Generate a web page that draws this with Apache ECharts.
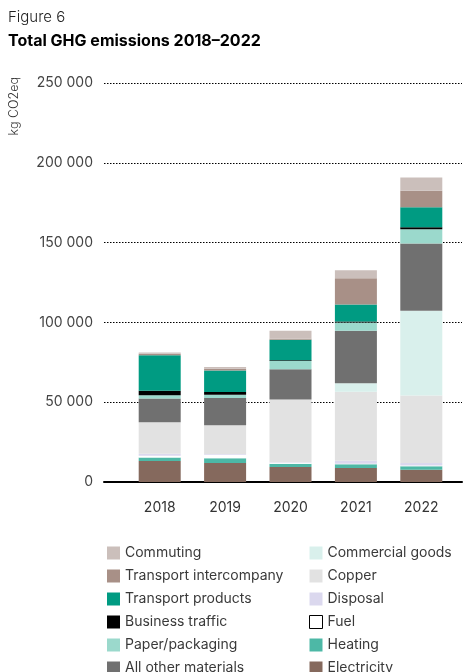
<!DOCTYPE html>
<html>
<head>
<meta charset="utf-8">
<script src="https://cdn.jsdelivr.net/npm/echarts@6/dist/echarts.min.js"></script>
<style>
html,body{margin:0;padding:0;background:#fff;}
#chart{width:466px;height:672px;}
</style>
</head>
<body>
<div id="chart"></div>
<script>
const years = ['2018', '2019', '2020', '2021', '2022'];
const yTicks = [0, 50000, 100000, 150000, 200000, 250000];

const electricity = [13200, 11900, 9400, 8800, 7700];
const heating = [2100, 3000, 2100, 2300, 2100];
const fuel = [1100, 2200, 500, 400, 600];
const disposal = [1300, 400, 400, 1800, 1500];
const copper = [19800, 18000, 39300, 43200, 42300];
const commercialGoods = [0, 0, 0, 5400, 53100];
const allOtherMaterials = [14800, 17100, 18900, 32900, 42100];
const paperPackaging = [2100, 2100, 5200, 5200, 9000];
const businessTraffic = [2700, 1700, 500, 600, 1200];
const transportProducts = [22300, 13500, 12900, 10600, 12500];
const transportIntercompany = [1000, 1000, 600, 16500, 10400];
const commuting = [800, 1100, 5000, 5000, 8300];

const legendLeft = ['Commuting', 'Transport intercompany', 'Transport products', 'Business traffic', 'Paper/packaging', 'All other materials'];
const legendRight = ['Commercial goods', 'Copper', 'Disposal', 'Fuel', 'Heating', 'Electricity'];

const FONT = 'Inter';
const stackDefs = [
  ['Electricity', electricity, '#85695d'],
  ['Heating', heating, '#4db8a6'],
  ['Fuel', fuel, '#ffffff'],
  ['Disposal', disposal, '#dbd8ee'],
  ['Copper', copper, '#e2e2e2'],
  ['Commercial goods', commercialGoods, '#d9f0ec'],
  ['All other materials', allOtherMaterials, '#707070'],
  ['Paper/packaging', paperPackaging, '#9bd9cc'],
  ['Business traffic', businessTraffic, '#000000'],
  ['Transport products', transportProducts, '#009b82'],
  ['Transport intercompany', transportIntercompany, '#a89087'],
  ['Commuting', commuting, '#cbbfbb']
];

const series = stackDefs.map(([name, data, color]) => ({
  name: name,
  type: 'bar',
  stack: 'total',
  xAxisIndex: 1,
  yAxisIndex: 1,
  barWidth: 42,
  data: data,
  itemStyle: { color: color },
  emphasis: { disabled: true }
}));

const legendItem = (n) => n === 'Fuel'
  ? { name: n, itemStyle: { color: '#ffffff', borderColor: '#000000', borderWidth: 1 } }
  : { name: n };

const legendBase = {
  orient: 'vertical',
  top: 546,
  height: 160,
  padding: 0,
  itemWidth: 13,
  itemHeight: 13,
  itemGap: 9,
  icon: 'rect',
  selectedMode: false,
  textStyle: { fontFamily: FONT, fontSize: 14, color: '#3a3a3a' }
};

const fmt = (v) => String(v).replace(/\B(?=(\d{3})+(?!\d))/g, ' ');

const chart = echarts.init(document.getElementById('chart'), null, { renderer: 'canvas' });
chart.setOption({
  backgroundColor: '#ffffff',
  animation: false,
  title: [
    { text: 'Figure 6', left: 8, top: 10, padding: 0, textStyle: { fontFamily: FONT, fontSize: 15, fontWeight: 300, color: '#222' } },
    { text: 'Total GHG emissions 2018–2022', left: 8, top: 33, padding: 0, textStyle: { fontFamily: FONT, fontSize: 16, fontWeight: 'bold', color: '#000' } }
  ],
  graphic: [{
    type: 'text',
    left: 8,
    top: 77,
    rotation: Math.PI / 2,
    style: { text: 'kg CO2eq', font: '300 12.5px ' + FONT, fill: '#333' }
  }],
  legend: [
    Object.assign({}, legendBase, { left: 107, data: legendLeft.map(legendItem) }),
    Object.assign({}, legendBase, { left: 309, data: legendRight.map(legendItem) })
  ],
  grid: [
    { left: 104, right: 4, top: 83, bottom: 190 },
    { left: 127, right: 12, top: 83, bottom: 190 }
  ],
  xAxis: [
    { type: 'category', gridIndex: 0, data: years, axisLine: { show: true, lineStyle: { color: '#000', width: 2 } }, axisTick: { show: false }, axisLabel: { show: false } },
    { type: 'category', gridIndex: 1, data: years, axisLine: { show: false }, axisTick: { show: false },
      axisLabel: { fontFamily: FONT, fontSize: 14, color: '#333', margin: 19 } }
  ],
  yAxis: [
    { type: 'value', gridIndex: 0, min: yTicks[0], max: yTicks[yTicks.length - 1], interval: 50000,
      axisLine: { show: false }, axisTick: { show: false },
      axisLabel: { fontFamily: FONT, fontSize: 14, color: '#444', margin: 11, formatter: fmt },
      splitLine: { show: true, lineStyle: { color: '#000', type: [1.5, 1.5], width: 1 } } },
    { type: 'value', gridIndex: 1, min: yTicks[0], max: yTicks[yTicks.length - 1], interval: 50000, show: false, splitLine: { show: false } }
  ],
  series: series
});
</script>
</body>
</html>
